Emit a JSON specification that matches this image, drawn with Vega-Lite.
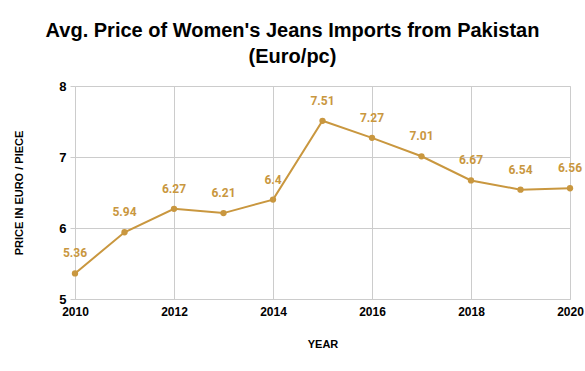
{
  "$schema": "https://vega.github.io/schema/vega-lite/v6.json",
  "width": 495,
  "height": 213,
  "autosize": "none",
  "padding": {"left": 75, "top": 86, "right": 15, "bottom": 72},
  "background": "white",
  "title": {
    "text": ["Avg. Price of Women's Jeans Imports from Pakistan", "(Euro/pc)"],
    "font": "Liberation Sans",
    "fontSize": 20,
    "fontWeight": "bold",
    "color": "#000000",
    "anchor": "middle",
    "dx": -30,
    "offset": 13,
    "lineHeight": 26
  },
  "data": {
    "values": [
      {"year": 2010, "price": 5.36},
      {"year": 2011, "price": 5.94},
      {"year": 2012, "price": 6.27},
      {"year": 2013, "price": 6.21},
      {"year": 2014, "price": 6.4},
      {"year": 2015, "price": 7.51},
      {"year": 2016, "price": 7.27},
      {"year": 2017, "price": 7.01},
      {"year": 2018, "price": 6.67},
      {"year": 2019, "price": 6.54},
      {"year": 2020, "price": 6.56}
    ]
  },
  "encoding": {
    "x": {
      "field": "year",
      "type": "quantitative",
      "scale": {"domain": [2010, 2020], "nice": false, "zero": false},
      "axis": {
        "title": "YEAR",
        "values": [2010, 2012, 2014, 2016, 2018, 2020],
        "format": "d",
        "labelFont": "Liberation Sans",
        "labelFontSize": 12,
        "labelFontWeight": "bold",
        "labelColor": "#000000",
        "labelPadding": 7,
        "titleFont": "Liberation Sans",
        "titleFontSize": 11,
        "titleFontWeight": "bold",
        "titleColor": "#000000",
        "titlePadding": 21,
        "domainColor": "#cccccc",
        "gridColor": "#cccccc",
        "ticks": false,
        "labelFlush": false
      }
    },
    "y": {
      "field": "price",
      "type": "quantitative",
      "scale": {"domain": [5, 8], "nice": false, "zero": false},
      "axis": {
        "title": "PRICE IN EURO / PIECE",
        "values": [5, 6, 7, 8],
        "labelFont": "Liberation Sans",
        "labelFontSize": 13,
        "labelFontWeight": "bold",
        "labelColor": "#000000",
        "labelPadding": 4,
        "titleFont": "Liberation Sans",
        "titleFontSize": 11,
        "titleFontWeight": "bold",
        "titleColor": "#000000",
        "titlePadding": 34,
        "domain": false,
        "gridColor": "#cccccc",
        "tickColor": "#cccccc",
        "tickSize": 5
      }
    }
  },
  "layer": [
    {
      "mark": {"type": "line", "color": "#c9973f", "strokeWidth": 2}
    },
    {
      "mark": {"type": "point", "filled": true, "color": "#c9973f", "size": 40, "opacity": 1}
    },
    {
      "mark": {"type": "text", "color": "#c9973f", "font": "Roboto", "fontSize": 12, "fontWeight": "bold", "dy": -20},
      "encoding": {"text": {"field": "price", "type": "quantitative"}}
    }
  ]
}
